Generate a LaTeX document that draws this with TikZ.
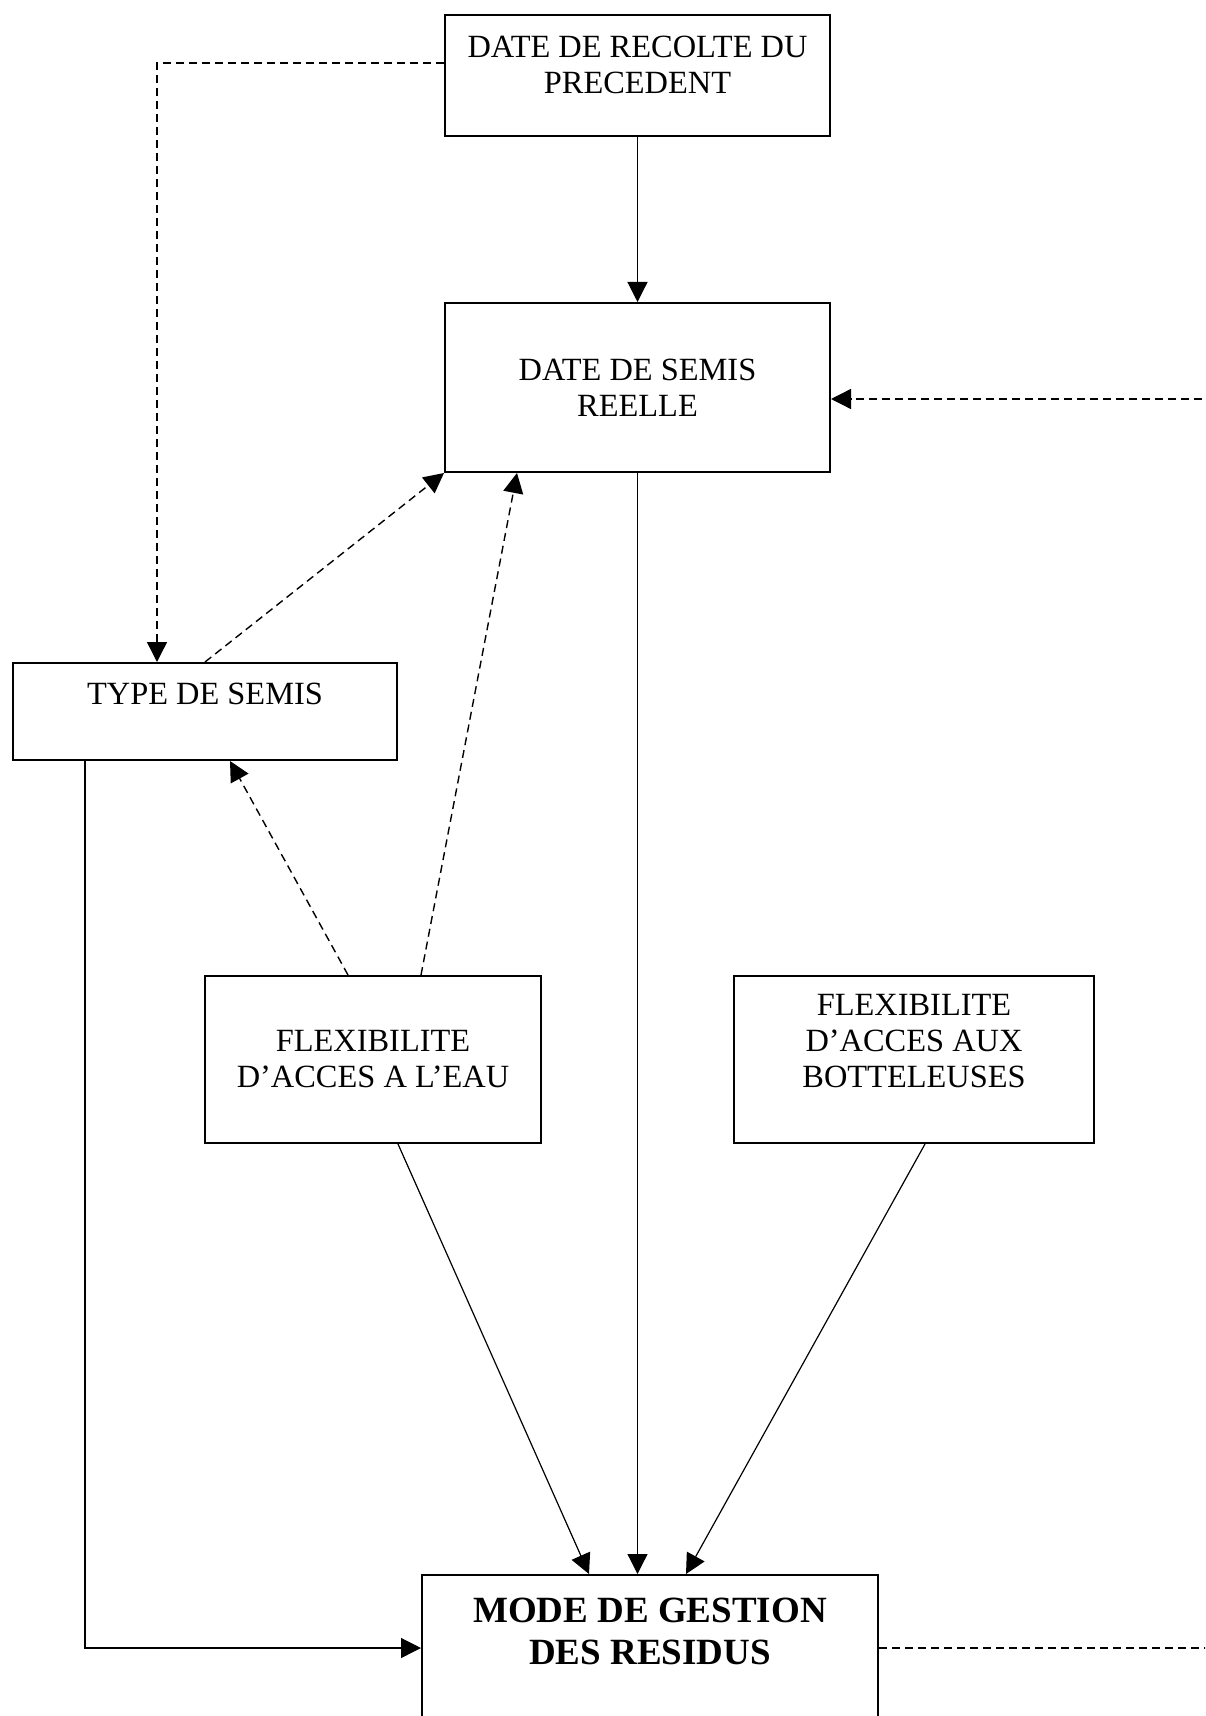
\documentclass[tikz,border=0pt]{standalone}
\usepackage{fontspec}
\setmainfont{Liberation Serif}
\usepackage{tikz}
\usetikzlibrary{arrows.meta, calc}

\begin{document}
\begin{tikzpicture}[
  x=0.5pt, y=-0.5pt,
  >={Triangle[length=10pt, width=10pt]},
  every node/.style={font=\fontsize{16.2}{18}\selectfont},
  boite/.style={draw, line width=1pt, rectangle, inner sep=0pt,
                align=center},
  texte/.style={align=center, inner sep=0pt},
  lien/.style={->, line width=0.6pt},
  pointille/.style={->, line width=0.7pt, dash pattern=on 4pt off 2.5pt}
]

%% ── CADRE ───────────────────────────────────────────────────────
\useasboundingbox (0,0) rectangle (1205,1716);
\clip (0,0) rectangle (1205,1716);

%% ── BOITES ──────────────────────────────────────────────────────
\node[boite, minimum width=192.5pt, minimum height=60.5pt]
  (recolte) at (637.5, 75.5) {};
\node[texte] (recolte-txt) at (637.5, 65)
  {DATE DE RECOLTE DU\\PRECEDENT};

\node[boite, minimum width=192.5pt, minimum height=84.5pt]
  (semis) at (637.5, 387.5) {DATE DE SEMIS\\REELLE};

\node[boite, minimum width=192pt, minimum height=48.5pt]
  (type) at (205, 711.5) {};
\node[texte] (type-txt) at (205, 694) {TYPE DE SEMIS};

\node[boite, minimum width=168pt, minimum height=83.5pt]
  (eau) at (373, 1059.5) {FLEXIBILITE\\D’ACCES A L’EAU};

\node[boite, minimum width=180pt, minimum height=83.5pt]
  (bott) at (914, 1059.5) {};
\node[texte] (bott-txt) at (914, 1041)
  {FLEXIBILITE\\D’ACCES AUX\\BOTTELEUSES};

%% boite du bas, coupee par le bord de la page
\node[boite, minimum width=228pt, minimum height=92.5pt]
  (mode) at (650, 1667.5) {};
\node[texte, font=\fontsize{18.5}{21}\selectfont\bfseries]
  (mode-txt) at (650, 1631) {MODE DE GESTION\\DES RESIDUS};

%% ── BORDS (lignes qui sortent de la page) ──────────────────────
\coordinate (bord-haut) at (1215, 399);
\coordinate (bord-bas) at (1215, 1648);

%% ── LIENS PLEINS ────────────────────────────────────────────────
\draw[lien] (recolte.south) -- (semis.north);
\draw[lien] (semis.south) -- (semis.south |- mode.north);
\draw[lien] ([xshift=12.5pt]eau.south) -- ([xshift=-30.5pt]mode.north);
\draw[lien] ([xshift=5.5pt]bott.south) -- ([xshift=18pt]mode.north);
\draw[lien] ([xshift=-60pt]type.south) |- ([yshift=9.75pt]mode.west);

%% ── LIENS POINTILLES ────────────────────────────────────────────
\draw[pointille] ([yshift=6.25pt]recolte.west) -| ([xshift=-24pt]type.north);
\draw[pointille] (bord-haut) -- ([yshift=-5.75pt]semis.east);
\draw[pointille] (type.north) -- (semis.south west);
\draw[pointille] ([xshift=24pt]eau.north) -- ([xshift=-60.25pt]semis.south);
\draw[pointille] ([xshift=-12.5pt]eau.north) -- ([xshift=12.5pt]type.south);
\draw[pointille, -] ([yshift=9.75pt]mode.east) -- (bord-bas);

\end{tikzpicture}
\end{document}
